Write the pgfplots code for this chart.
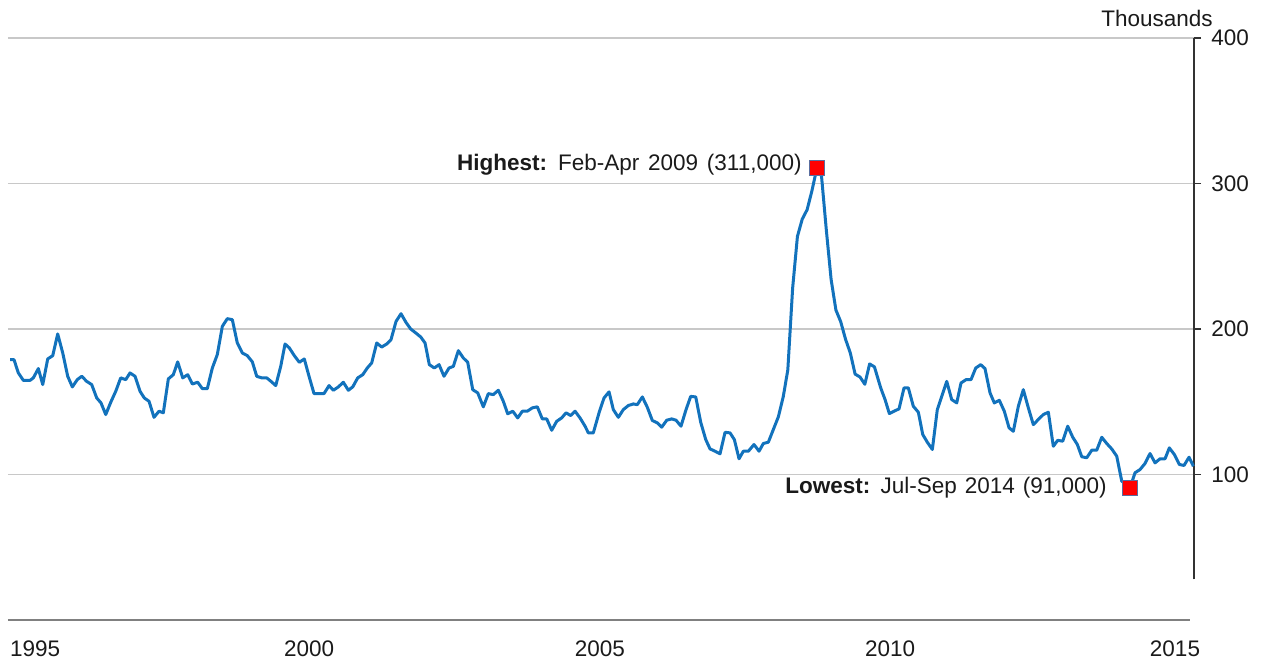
\documentclass[border=0pt]{standalone}
\usepackage{fontspec}
\setmainfont{Liberation Sans}
\usepackage{pgfplots}
\pgfplotsset{compat=1.18}
\definecolor{lineblue}{RGB}{18,114,188}
\definecolor{gridgray}{RGB}{200,200,200}
\definecolor{axisgray}{RGB}{50,50,50}
\definecolor{baseline}{RGB}{128,128,128}
\definecolor{txt}{RGB}{26,26,26}
\definecolor{markred}{RGB}{255,0,0}
\definecolor{markedge}{RGB}{90,110,160}

\pgfplotstableread{
t v
1995.206 178.9
1995.275 178.9
1995.350 169.8
1995.436 164.7
1995.552 164.7
1995.609 166.4
1995.696 172.8
1995.772 161.8
1995.858 179.4
1995.945 181.7
1996.031 196.6
1996.118 183.5
1996.204 167.5
1996.284 160.2
1996.370 165.2
1996.446 167.5
1996.533 164.0
1996.619 161.8
1996.706 152.6
1996.780 149.2
1996.862 141.2
1996.948 149.6
1997.035 157.2
1997.121 166.4
1997.208 165.2
1997.282 169.8
1997.369 167.5
1997.455 157.2
1997.529 152.6
1997.611 150.3
1997.697 139.3
1997.784 143.5
1997.858 142.4
1997.945 165.7
1998.031 168.6
1998.107 177.4
1998.194 166.4
1998.280 168.6
1998.360 162.2
1998.453 163.4
1998.533 159.0
1998.619 159.0
1998.706 173.2
1998.792 182.4
1998.879 201.8
1998.965 207.1
1999.052 206.4
1999.138 190.4
1999.225 183.5
1999.311 181.7
1999.398 177.4
1999.474 167.5
1999.561 166.4
1999.647 166.4
1999.721 164.0
1999.803 161.1
1999.889 174.3
1999.964 189.7
2000.038 187.0
2000.124 181.7
2000.211 177.1
2000.297 179.4
2000.379 167.5
2000.465 155.6
2000.552 155.6
2000.638 155.6
2000.725 161.1
2000.799 157.9
2000.886 160.2
2000.972 163.4
2001.059 157.9
2001.135 160.2
2001.221 166.4
2001.308 168.6
2001.387 173.2
2001.463 176.7
2001.550 190.4
2001.636 187.6
2001.723 189.7
2001.797 192.7
2001.884 205.2
2001.970 210.5
2002.057 204.5
2002.138 200.0
2002.225 197.3
2002.311 194.5
2002.386 190.4
2002.460 175.5
2002.546 173.2
2002.628 175.5
2002.714 167.5
2002.801 173.2
2002.875 174.3
2002.962 185.1
2003.048 180.1
2003.124 177.1
2003.211 158.3
2003.297 156.1
2003.394 146.5
2003.481 155.6
2003.567 154.9
2003.654 157.9
2003.740 150.3
2003.816 141.7
2003.903 143.5
2003.989 138.9
2004.069 143.5
2004.155 143.5
2004.242 145.8
2004.328 146.5
2004.415 138.2
2004.491 138.2
2004.577 130.4
2004.664 136.6
2004.750 138.9
2004.825 142.4
2004.906 140.5
2004.981 143.5
2005.067 138.9
2005.154 133.2
2005.211 128.6
2005.297 128.6
2005.396 142.4
2005.482 152.6
2005.569 156.8
2005.643 144.6
2005.730 139.3
2005.816 144.6
2005.903 147.4
2005.989 148.5
2006.058 148.0
2006.145 153.3
2006.231 146.2
2006.318 137.1
2006.404 135.5
2006.480 132.5
2006.567 137.3
2006.653 138.2
2006.728 137.3
2006.814 133.2
2006.901 144.6
2006.982 153.7
2007.069 153.3
2007.155 135.9
2007.242 124.0
2007.316 117.6
2007.403 116.0
2007.489 114.2
2007.576 129.0
2007.662 128.6
2007.737 124.0
2007.818 110.8
2007.892 116.0
2007.979 116.0
2008.077 120.6
2008.164 116.0
2008.238 121.3
2008.325 122.2
2008.411 130.9
2008.498 139.6
2008.584 153.7
2008.662 172.0
2008.745 228.0
2008.828 263.6
2008.911 275.5
2008.996 282.0
2009.079 295.0
2009.167 311.0
2009.245 305.0
2009.328 268.0
2009.411 234.0
2009.494 213.0
2009.577 205.0
2009.660 193.0
2009.743 183.5
2009.826 169.0
2009.911 167.0
2009.994 162.0
2010.077 176.0
2010.160 174.0
2010.269 159.5
2010.344 151.5
2010.418 141.9
2010.499 143.5
2010.586 145.1
2010.672 159.5
2010.747 159.5
2010.833 146.9
2010.920 142.8
2010.996 127.5
2011.075 122.2
2011.162 117.2
2011.248 144.6
2011.335 154.9
2011.411 164.0
2011.497 151.5
2011.584 149.2
2011.658 162.9
2011.745 165.2
2011.831 165.2
2011.913 173.2
2011.999 175.5
2012.073 172.8
2012.160 156.1
2012.234 149.2
2012.321 151.0
2012.407 143.5
2012.489 132.1
2012.563 129.7
2012.650 146.9
2012.736 158.3
2012.823 145.8
2012.909 134.3
2012.996 137.8
2013.082 141.2
2013.169 142.8
2013.255 119.4
2013.331 123.5
2013.418 122.9
2013.504 133.2
2013.591 125.6
2013.671 120.6
2013.747 112.2
2013.833 111.5
2013.920 116.7
2014.006 116.7
2014.093 125.6
2014.179 121.3
2014.265 117.6
2014.352 112.6
2014.439 95.4
2014.500 94.0
2014.583 91.0
2014.669 101.2
2014.755 103.4
2014.842 107.6
2014.928 114.4
2015.015 108.0
2015.101 110.8
2015.188 110.8
2015.262 118.3
2015.349 113.7
2015.435 106.9
2015.516 106.2
2015.603 111.9
2015.678 105.7
}\unemp

\begin{document}
\fontsize{11.25}{13.5}\selectfont
\begin{tikzpicture}
\useasboundingbox (-4pt,-21.5pt) rectangle (626.5pt,310pt);
\begin{axis}[
  at={(0,0)}, anchor=south west,
  scale only axis, width=593pt, height=291pt,
  xmin=1995.171, xmax=2015.689, ymin=0, ymax=400,
  axis line style={draw=none},
  ytick={100,200,300,400},
  ytick pos=right, yticklabel pos=right,
  tick align=outside, major tick length=3.5pt,
  ytick style={draw=axisgray, line width=0.75pt},
  xtick={1995.64,2000.38,2005.41,2010.43,2015.36},
  xticklabels={1995,2000,2005,2010,2015},
  xtick style={draw=none},
  ymajorgrids, grid style={draw=gridgray, line width=0.75pt},
  ticklabel style={font=\fontsize{11.25}{13.5}\selectfont, text=txt},
  /pgf/number format/assume math mode=true,
  yticklabel style={anchor=west, inner sep=0pt, xshift=5pt},
  xticklabel style={anchor=north, inner sep=0pt, yshift=-6.5pt},
  clip=false,
]
\draw[draw=axisgray, line width=0.75pt] (axis cs:2015.689,28) -- (axis cs:2015.689,400);
\draw[draw=baseline, line width=0.9pt] (axis cs:1995.171,0) -- (axis cs:2015.62,0);
\addplot[draw=lineblue, line width=1.5pt, line join=round, no markers] table[x=t, y=v] {\unemp};
\addplot[only marks, mark=square*, mark size=3.75pt,
  mark options={fill=markred, draw=markedge, line width=0.4pt}]
  coordinates {(2009.167,311) (2014.583,91)};
\node[anchor=base east, inner sep=0pt, xshift=-7.5pt, yshift=-1.75pt, text=txt]
  at (axis cs:2009.167,311) {\spaceskip=4.4pt\textbf{Highest:} Feb-Apr 2009 (311,000)};
\node[anchor=base east, inner sep=0pt, xshift=-11.5pt, yshift=-2.85pt, text=txt]
  at (axis cs:2014.583,91) {\spaceskip=4.0pt\textbf{Lowest:} Jul-Sep 2014 (91,000)};
\node[anchor=base east, inner sep=0pt, xshift=9.5pt, yshift=5.5pt, text=txt]
  at (axis cs:2015.689,400) {Thousands};
\end{axis}
\end{tikzpicture}
\end{document}
